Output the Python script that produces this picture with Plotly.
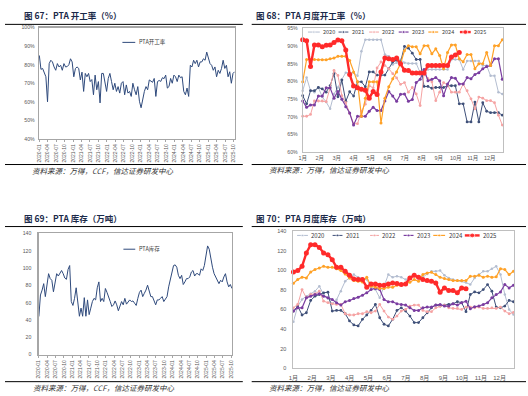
import plotly.graph_objects as go
import pandas as pd

W, H = 528, 396
FONT = "Liberation Sans, Noto Sans CJK SC, sans-serif"
CJK = "Noto Sans CJK SC, Liberation Sans, sans-serif"

# ---------------- data ----------------
# Fig 67: PTA operating rate (%), 2020-01 .. 2025-10
op_rate_weekly = [
    85.0, 77.5, 78.0, 76.0, 73.5, 60.0, 80.6, 82.4, 81.5, 78.8,
    77.0, 80.6, 78.8, 79.7, 77.0, 80.6, 78.8, 79.0, 80.0, 83.2,
    81.5, 73.5, 78.0, 78.8, 78.0, 71.8, 76.0, 65.6, 75.3, 73.5,
    75.3, 70.9, 72.0, 63.8, 74.4, 66.5, 70.9, 59.4, 75.3, 75.3,
    70.9, 65.6, 72.6, 75.3, 70.9, 66.5, 70.0, 65.6, 68.2, 64.7,
    70.0, 70.9, 63.8, 69.1, 64.7, 65.6, 62.9, 70.0, 66.5, 63.8,
    68.2, 60.3, 56.8, 62.0, 65.6, 68.2, 66.5, 71.8, 70.9, 70.5,
    72.6, 62.9, 70.9, 71.5, 71.0, 73.0, 72.5, 74.4, 67.4, 68.2,
    72.6, 70.0, 74.4, 73.5, 70.9, 74.4, 73.0, 73.5, 65.6, 63.8,
    67.4, 62.9, 79.7, 78.8, 82.4, 80.6, 82.4, 78.8, 81.5, 81.5,
    83.2, 82.4, 86.8, 84.1, 80.6, 79.7, 77.0, 78.8, 73.5, 77.0,
    75.3, 78.0, 82.4, 78.0, 79.7, 73.5, 76.2, 70.0, 75.3, 76.2]
op_rate_start, op_rate_end = "2020-01-01", "2025-10-12"

# Fig 69: PTA inventory (10k t), 2020-01 .. 2025-10
inventory_weekly = [
    44.0, 68.9, 74.5, 82.0, 67.0, 84.0, 93.5, 87.8, 85.9, 72.6,
    84.0, 93.5, 90.8, 93.5, 97.2, 93.5, 88.5, 87.0, 98.4, 102.9,
    61.3, 56.8, 65.0, 77.2, 57.5, 44.3, 53.7, 44.3, 65.8, 44.3,
    63.2, 46.2, 53.7, 61.3, 65.0, 63.2, 77.2, 84.0, 61.3, 65.0,
    61.3, 76.4, 71.9, 65.0, 61.3, 55.6, 57.5, 62.0, 57.5, 50.7,
    55.6, 61.3, 57.5, 65.0, 58.3, 60.5, 63.2, 61.3, 62.0, 59.4,
    56.8, 65.0, 71.9, 74.5, 67.0, 70.8, 74.5, 80.2, 72.6, 67.0,
    67.0, 63.2, 57.5, 63.2, 63.2, 65.0, 67.0, 61.3, 65.0, 67.0,
    78.3, 85.9, 93.5, 102.9, 103.7, 101.0, 91.6, 87.8, 91.6, 81.0,
    84.0, 87.8, 87.8, 89.7, 95.4, 97.2, 90.8, 93.5, 93.5, 91.6,
    99.1, 97.2, 102.9, 114.3, 125.6, 121.8, 108.6, 101.0, 93.5, 89.7,
    84.0, 82.0, 85.9, 84.0, 89.7, 93.5, 84.0, 78.3, 81.0, 76.4]
inventory_start, inventory_end = "2020-01-01", "2025-10-08"

years = ["2020", "2021", "2022", "2023", "2024", "2025"]

# Fig 68: monthly operating rate by year (weekly points, %)
rate_2020 = [77.4, 81.1, 77.4, 77.0, 78.3, 75.6, 74.2, 72.3, 76.5, 78.3, 80.6, 82.5, 82.5, 82.5, 81.6, 88.5,
             91.8, 91.8, 91.8, 91.8, 91.8, 87.6, 87.1, 84.8, 85.3, 86.2, 85.3, 85.1, 85.1, 85.1, 82.5, 83.4,
             83.4, 83.4, 83.4, 83.4, 83.4, 83.4, 86.2, 86.2, 86.2, 83.4, 85.8, 85.8, 85.8, 85.8, 84.5, 84.5,
             81.6, 81.6, 77.0, 76.5]
rate_2021 = [76.0, 73.7, 77.4, 77.4, 78.3, 77.9, 77.0, 78.8, 82.2, 75.7, 80.4, 74.4, 77.1, 75.9, 79.9, 79.9,
             78.5, 82.7, 82.7, 81.8, 81.8, 81.8, 83.6, 85.5, 86.0, 85.5, 89.9, 89.4, 88.0, 86.2, 86.2, 78.6,
             78.6, 78.1, 78.3, 78.3, 78.3, 78.8, 78.8, 78.8, 73.7, 73.7, 68.6, 68.6, 74.2, 68.6, 74.0, 71.6,
             71.2, 71.2, 71.2, 70.5]
rate_2022 = [70.2, 70.2, 70.7, 74.5, 74.5, 74.5, 74.3, 78.2, 83.1, 81.7, 76.0, 74.0, 71.0, 68.1, 68.1, 71.6,
             73.6, 78.8, 78.2, 83.8, 85.5, 84.5, 83.6, 82.2, 81.0, 79.2, 79.7, 77.0, 78.3, 76.5, 73.2, 82.0,
             80.8, 79.9, 74.6, 77.0, 79.7, 79.0, 77.0, 77.0, 77.0, 79.3, 77.4, 75.1, 72.3, 75.6, 75.3, 74.6,
             74.6, 74.0, 70.5, 67.7]
rate_2023 = [74.5, 72.7, 73.4, 73.4, 75.9, 75.9, 78.2, 78.2, 75.3, 77.2, 75.0, 72.9, 71.1, 67.7, 70.2, 70.2,
             70.2, 71.6, 72.7, 71.8, 71.8, 74.5, 77.2, 75.9, 74.4, 76.4, 76.5, 74.4, 74.9, 79.7, 80.6, 83.4,
             80.2, 80.6, 81.1, 80.2, 76.0, 79.3, 81.1, 80.9, 79.3, 79.3, 81.1, 80.8, 82.0, 82.5, 83.6, 84.2,
             84.5, 86.4, 86.4, 80.6]
rate_2024 = [79.9, 86.2, 86.2, 86.2, 86.1, 86.1, 86.1, 86.4, 86.6, 87.1, 87.1, 87.1, 85.9, 82.7, 79.9, 70.2,
             75.3, 79.9, 79.9, 79.9, 68.3, 75.3, 78.5, 80.8, 82.7, 85.0, 88.7, 90.1, 89.8, 89.8, 87.8, 90.1,
             90.1, 87.8, 89.2, 87.3, 83.6, 88.2, 90.3, 90.3, 86.4, 85.6, 87.6, 87.6, 83.6, 85.0, 85.0, 88.2,
             84.5, 90.1, 90.1, 91.8]
rate_2025 = [91.8, 91.5, 84.2, 90.3, 90.3, 89.8, 90.2, 90.3, 91.0, 91.7, 91.5, 88.9, 82.0, 78.7, 78.2, 77.8,
             77.5, 75.3, 77.2, 76.3, 82.7, 86.6, 86.4, 86.2, 86.6, 85.0, 83.2, 83.1, 82.4, 82.4, 82.4, 82.4,
             84.5, 84.5, 84.5, 84.5, 84.5, 84.5, 86.9, 87.5, 88.2]

# Fig 70: monthly inventory by year (weekly points, 10k t)
inv_2020 = [47.6, 63.5, 70.3, 73.7, 76.1, 78.8, 83.9, 75.4, 71.4, 65.9, 70.0, 78.8, 89.0, 92.4, 95.8, 93.1,
            91.7, 90.7, 82.9, 80.5, 72.0, 82.9, 95.8, 93.1, 94.1, 93.1, 90.7, 92.4, 95.8, 91.7, 93.1, 96.5,
            99.2, 99.2, 99.9, 95.1, 92.4, 90.7, 89.7, 89.0, 87.6, 85.6, 92.4, 95.8, 99.2, 99.2, 101.9, 104.3,
            95.8, 75.4, 60.1, 55.0]
inv_2021 = [58.4, 63.5, 54.4, 56.7, 69.3, 73.7, 75.4, 77.1, 77.8, 58.4, 59.1, 59.1, 55.7, 48.3, 44.2, 43.2,
            50.0, 54.4, 59.1, 65.2, 51.6, 44.9, 43.2, 50.0, 59.1, 61.8, 58.4, 53.3, 46.6, 46.6, 51.6, 56.7,
            61.8, 64.6, 63.5, 64.6, 65.2, 65.9, 68.0, 67.0, 57.8, 75.4, 78.1, 77.1, 80.5, 85.6, 78.8, 62.5,
            61.8, 63.5, 69.3, 68.0]
inv_2022 = [61.8, 65.2, 80.5, 72.0, 75.4, 76.1, 78.8, 68.6, 67.0, 65.9, 65.2, 65.2, 55.7, 54.4, 54.4, 55.7,
            55.7, 57.8, 56.7, 58.4, 65.2, 58.4, 52.3, 50.0, 53.3, 58.4, 60.1, 63.5, 64.6, 64.6, 59.1, 57.8,
            57.8, 61.8, 63.5, 64.6, 61.8, 61.1, 61.1, 60.1, 62.5, 62.5, 61.8, 62.5, 61.1, 61.1, 61.8, 61.1,
            62.5, 58.4, 55.7, 57.0]
inv_2023 = [58.4, 61.8, 61.8, 72.0, 73.7, 75.4, 76.1, 73.7, 72.0, 70.3, 66.9, 64.6, 68.0, 69.3, 71.4, 72.7,
            74.7, 77.1, 80.5, 81.6, 80.5, 70.3, 68.0, 68.0, 65.9, 65.2, 64.6, 61.8, 59.1, 59.1, 61.8, 62.5,
            62.5, 64.6, 65.2, 63.5, 63.5, 65.9, 64.6, 67.0, 68.6, 60.8, 62.9, 63.5, 65.2, 67.0, 72.0, 75.4,
            78.1, 85.6, 82.2, 84.9]
inv_2024 = [87.0, 90.7, 93.1, 92.4, 98.5, 101.0, 102.6, 104.3, 103.3, 103.3, 101.9, 99.9, 96.5, 92.4, 89.7,
            89.0, 88.3, 93.1, 83.9, 82.9, 81.6, 81.6, 82.9, 82.9, 84.9, 85.5, 86.5, 88.0, 90.7, 89.0, 95.8,
            97.5, 98.2, 95.8, 93.1, 91.7, 90.7, 89.7, 89.7, 89.7, 89.7, 94.1, 94.1, 95.1, 93.1, 94.1, 93.1,
            93.5, 101.9, 101.0, 95.8, 99.2]
inv_2025 = [98.5, 99.9, 104.3, 117.9, 126.4, 126.4, 123.7, 117.9, 116.2, 111.1, 103.3, 103.3, 99.2, 95.1,
            91.4, 90.7, 90.7, 82.9, 86.3, 86.3, 84.9, 84.9, 86.3, 87.3, 86.6, 85.6, 86.3, 92.4, 95.1, 93.1,
            90.7, 89.7, 89.0, 87.3, 77.8, 82.2, 79.5, 79.5, 77.1, 82.2, 81.2]

month_labels = ["1月", "2月", "3月", "4月", "5月", "6月", "7月", "8月", "9月", "10月", "11月", "12月"]

rate_by_year = dict(zip(years, [rate_2020, rate_2021, rate_2022, rate_2023, rate_2024, rate_2025]))
inv_by_year = dict(zip(years, [inv_2020, inv_2021, inv_2022, inv_2023, inv_2024, inv_2025]))

# ---------------- styling ----------------
NAVY = "#2f4a7c"
year_colors = {"2020": "#b3bdd0", "2021": "#3f5079", "2022": "#f5a3a3",
               "2023": "#7a3da0", "2024": "#ffa126", "2025": "#ff2a2a"}
year_width = {"2020": 1, "2021": 1, "2022": 1, "2023": 1.2, "2024": 1.2, "2025": 2.4}
year_msize = {"2020": 2.5, "2021": 2.8, "2022": 2.8, "2023": 3, "2024": 3, "2025": 5}
TICK = "#595959"
BOX = "#a6a6a6"


def dx(a, b):
    return [a / W, b / W]


def dy(top, bottom):
    return [1 - bottom / H, 1 - top / H]


week_ticks = [1 + i * 4.345 for i in range(12)]

fig = go.Figure()

# Panel 1
op_dates = pd.date_range(op_rate_start, op_rate_end, periods=len(op_rate_weekly))
fig.add_trace(go.Scatter(x=op_dates, y=op_rate_weekly, xaxis="x", yaxis="y", mode="lines",
                         line=dict(color=NAVY, width=1), showlegend=False, hoverinfo="skip"))
# Panel 3
inv_dates = pd.date_range(inventory_start, inventory_end, periods=len(inventory_weekly))
fig.add_trace(go.Scatter(x=inv_dates, y=inventory_weekly, xaxis="x3", yaxis="y3", mode="lines",
                         line=dict(color=NAVY, width=1), showlegend=False, hoverinfo="skip"))
# Panels 2 and 4
for yr in years:
    for data, xa, ya in ((rate_by_year, "x2", "y2"), (inv_by_year, "x4", "y4")):
        vals = data[yr]
        fig.add_trace(go.Scatter(
            x=list(range(1, len(vals) + 1)), y=vals, xaxis=xa, yaxis=ya, mode="lines+markers",
            line=dict(color=year_colors[yr], width=year_width[yr]),
            marker=dict(size=year_msize[yr], color=year_colors[yr]),
            showlegend=False, cliponaxis=False, hoverinfo="skip"))

# ---------------- custom legends (pixel space overlay) ----------------
annotations = []
shapes = []


def legend_entry(x0, x1, y, color, width, msize, text, fsize, marker=True):
    fig.add_trace(go.Scatter(
        x=[x0, (x0 + x1) / 2, x1], y=[y, y, y], xaxis="x5", yaxis="y5",
        mode="lines+markers" if marker else "lines",
        line=dict(color=color, width=width),
        marker=dict(size=[0, msize, 0], color=color),
        showlegend=False, cliponaxis=False, hoverinfo="skip"))
    annotations.append(dict(x=x1 + 1.5, y=y, xref="x5", yref="y5", text=text, showarrow=False,
                            xanchor="left", yanchor="middle",
                            font=dict(size=fsize, color="#404040", family=CJK)))


legend_entry(119, 132, 40, NAVY, 1, 0, "PTA开工率", 5.5, marker=False)
legend_entry(120, 132, 250, NAVY, 1, 0, "PTA库存", 5.5, marker=False)

leg2_x = [(307, 319), (338, 348), (369, 379), (399, 409), (429, 439), (461, 472)]
leg4_x = [(296, 307), (332, 342), (370, 379), (404, 414), (434, 446), (466, 481)]
for yr, (a, b) in zip(years, leg2_x):
    legend_entry(a, b, 29.5, year_colors[yr], year_width[yr], year_msize[yr], yr, 5.5)
for yr, (a, b) in zip(years, leg4_x):
    legend_entry(a, b, 236, year_colors[yr], year_width[yr], year_msize[yr], yr, 6)

# titles
titles = [(17, 12, "图 67：PTA 开工率（%）"), (252, 12, "图 68：PTA 月度开工率（%）"),
          (17, 218, "图 69：PTA 库存（万吨）"), (252, 218, "图 70：PTA 月度库存（万吨）")]
for x, y, t in titles:
    annotations.append(dict(x=x, y=y, xref="x5", yref="y5", text="<b>" + t + "</b>", showarrow=False,
                            xanchor="left", yanchor="middle",
                            font=dict(size=8.5, color="#1b2a4a", family=CJK)))
sources = [(25, 170, "资料来源：万得，CCF，信达证券研发中心"), (266, 169.5, "资料来源：万得，信达证券研发中心"),
           (26, 390.5, "资料来源：万得，CCF，信达证券研发中心"), (266, 390.5, "资料来源：万得，信达证券研发中心")]
for x, y, t in sources:
    annotations.append(dict(x=x, y=y, xref="x5", yref="y5", text="<i>" + t + "</i>", showarrow=False,
                            xanchor="left", yanchor="middle",
                            font=dict(size=7.5, color="#333333", family=CJK)))

for (xa, xb, y) in [(0, 241, 21.7), (250, 528, 21.7), (0, 241, 164), (250, 528, 164),
                    (0, 241, 227), (250, 528, 227), (0, 241, 384.5), (250, 528, 384.5)]:
    shapes.append(dict(type="line", xref="x5", yref="y5", x0=xa, x1=xb, y0=y, y1=y,
                       line=dict(color="#000000", width=1)))

tf = dict(size=5.5, color=TICK, family=FONT)
base = dict(showgrid=False, zeroline=False, showline=True, mirror=True, fixedrange=True)

fig.update_layout(
    width=W, height=H, autosize=False,
    margin=dict(l=0, r=0, t=0, b=0),
    paper_bgcolor="white", plot_bgcolor="rgba(0,0,0,0)",
    font=dict(family=FONT),
    showlegend=False,
    annotations=annotations, shapes=shapes,
    xaxis=dict(**base, domain=dx(34.5, 233), anchor="y", type="date",
               range=["2019-12-29", "2025-10-15"], tickformat="%Y-%m", dtick="M3", tick0="2020-01-01",
               tickangle=-90, tickfont=dict(size=5, color=TICK, family=FONT),
               ticks="outside", ticklen=2, tickcolor=BOX, linecolor=BOX, linewidth=1.3),
    yaxis=dict(**base, domain=dy(25, 138), anchor="x", range=[40, 100], dtick=10, ticksuffix="%",
               tickfont=dict(size=5.2, color=TICK, family=FONT), linecolor=BOX, linewidth=1.3,
               ticklabelstandoff=2),
    xaxis2=dict(**base, domain=dx(301.7, 505), anchor="y2", range=[1, 52.25],
                tickvals=week_ticks, ticktext=month_labels, tickfont=tf,
                linecolor="#bfbfbf", linewidth=1),
    yaxis2=dict(**base, domain=dy(25.7, 151.7), anchor="x2", range=[60, 95], dtick=5, ticksuffix="%",
                tickfont=dict(size=5.2, color=TICK, family=FONT), linecolor="#bfbfbf", linewidth=1,
                ticklabelstandoff=3),
    xaxis3=dict(**base, domain=dx(34.3, 230), anchor="y3", type="date",
                range=["2020-01-01", "2025-10-08"], tickformat="%Y-%m", dtick="M3", tick0="2020-01-01",
                tickangle=-90, tickfont=dict(size=5, color=TICK, family=FONT),
                ticks="outside", ticklen=2, tickcolor=BOX, linecolor=BOX, linewidth=1.5),
    yaxis3=dict(**base, domain=dy(234, 357), anchor="x3", range=[0, 140], dtick=20,
                tickfont=dict(size=5.2, color=TICK, family=FONT), linecolor=BOX, linewidth=1.5,
                ticklabelstandoff=5),
    xaxis4=dict(**base, domain=dx(292.3, 515.5), anchor="y4", range=[1, 52.05],
                tickvals=week_ticks, ticktext=month_labels, tickfont=dict(size=6, color=TICK, family=FONT),
                linecolor="#bfbfbf", linewidth=1, ticklabelstandoff=4),
    yaxis4=dict(**base, domain=dy(232, 370.7), anchor="x4", range=[0, 140], dtick=20,
                tickfont=dict(size=5.5, color=TICK, family=FONT), linecolor="#bfbfbf", linewidth=1,
                ticklabelstandoff=5),
    xaxis5=dict(domain=[0, 1], range=[0, W], visible=False, anchor="y5", fixedrange=True),
    yaxis5=dict(domain=[0, 1], range=[H, 0], visible=False, anchor="x5", fixedrange=True),
)

fig.write_html("out.html", config={"displayModeBar": False, "staticPlot": True},
               post_script="document.body.style.margin='0px';")
